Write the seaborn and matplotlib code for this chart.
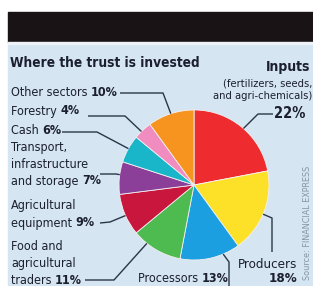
import numpy as np
import matplotlib
matplotlib.use("Agg")
import matplotlib.pyplot as plt
import seaborn as sns
from matplotlib import font_manager as fm
from matplotlib.patches import Rectangle

# ---------------- data ----------------
categories = ["Inputs", "Producers", "Processors", "Food and agricultural traders",
              "Agricultural equipment", "Transport, infrastructure and storage",
              "Cash", "Forestry", "Other sectors"]
shares = [22, 18, 13, 11, 9, 7, 6, 4, 10]
pct_labels = ["22%", "18%", "13%", "11%", "9%", "7%", "6%", "4%", "10%"]
colors = ["#ee2b2e", "#fde128", "#1c9fe0", "#4dbb4f", "#c9163c",
          "#8b3f98", "#19b6c9", "#f08cbf", "#f7941f"]
title = "Where the trust is invested"
source = "Source: FINANCIAL EXPRESS"

sns.set_style("white")
names = {f.name for f in fm.fontManager.ttflist}
if "Liberation Sans Narrow" in names:
    FAM = "Liberation Sans Narrow"
    STRETCH = "normal"
else:
    FAM = "DejaVu Sans"
    STRETCH = "condensed"
plt.rcParams["font.family"] = [FAM, "DejaVu Sans"]

W, H = 313, 286
fig = plt.figure(figsize=(W / 100, H / 100), dpi=100)
fig.patch.set_facecolor("white")
ax = fig.add_axes([0, 0, 1, 1])

def Y(y):
    return H - y

BG = "#d5e5f2"
TXT = "#1b1f2e"
LN = "#2a3647"
ax.add_patch(Rectangle((8, Y(286)), W - 8, 286 - 44, color=BG, zorder=0))
ax.add_patch(Rectangle((8, Y(42)), W - 8, 30, color="#1a1315", zorder=0))
ax.add_patch(Rectangle((8, Y(44)), W - 8, 2, color="#eef3f7", zorder=0))

# ---------------- pie ----------------
cx, cy, R = 194, 185, 75
explode = [0.06] + [0] * (len(shares) - 1)
wedges, _ = ax.pie(shares, colors=colors, startangle=90, counterclock=False,
                   center=(cx, Y(cy)), radius=R, explode=explode,
                   wedgeprops=dict(edgecolor="#f4f0f0", linewidth=0.6), frame=True)
ax.set_xlim(0, W)
ax.set_ylim(0, H)
ax.set_aspect("equal")
ax.axis("off")

def edge_point(i, frac):
    w = wedges[i]
    a1, a2 = w.theta1, w.theta2
    th = np.deg2rad(a1 + (a2 - a1) * frac)
    c = w.center
    return c[0] + w.r * np.cos(th), c[1] + w.r * np.sin(th)

def leader(i, frac, pts):
    ex, ey = edge_point(i, frac)
    xs = [p[0] for p in pts] + [ex]
    ys = [Y(p[1]) for p in pts] + [ey]
    ax.plot(xs, ys, color=LN, lw=1.0, solid_capstyle="butt", zorder=3)

FS = 9
LS = 17
def label(x, y, lines, pct):
    for k, ln in enumerate(lines[:-1]):
        ax.text(x, Y(y + LS * k), ln, fontsize=FS, color=TXT, va="center",
                ha="left", fontstretch=STRETCH)
    yl = Y(y + LS * (len(lines) - 1))
    t = ax.text(x, yl, lines[-1] + " ", fontsize=FS, color=TXT, va="center",
                ha="left", fontstretch=STRETCH)
    ax.annotate(pct, xy=(1, 0), xycoords=t, va="bottom", ha="left",
                fontsize=FS, fontweight="bold", color=TXT, fontstretch=STRETCH)

ax.text(10, Y(63), title, fontsize=9.8, fontweight="bold", color=TXT,
        va="center", ha="left", fontstretch=STRETCH)

# left-side labels
label(11, 92, ["Other sectors"], pct_labels[8])
label(11, 111, ["Forestry"], pct_labels[7])
label(11, 130, ["Cash"], pct_labels[6])
label(11, 147, ["Transport,", "infrastructure", "and storage"], pct_labels[5])
label(11, 206, ["Agricultural", "equipment"], pct_labels[4])
label(11, 247, ["Food and", "agricultural", "traders"], pct_labels[3])
label(138, 279, ["Processors"], pct_labels[2])

# Producers (right aligned)
ax.text(297, Y(265), categories[1], fontsize=9.5, color=TXT, va="center", ha="right",
        fontstretch=STRETCH)
ax.text(297, Y(279), pct_labels[1], fontsize=9.5, fontweight="bold", color=TXT,
        va="center", ha="right", fontstretch=STRETCH)

# Inputs block
ax.text(310, Y(67), categories[0], fontsize=10, fontweight="bold", color=TXT,
        va="center", ha="right", fontstretch=STRETCH)
ax.text(312, Y(83), "(fertilizers, seeds,", fontsize=8, color=TXT, va="center",
        ha="right", fontstretch=STRETCH)
ax.text(312, Y(96), "and agri-chemicals)", fontsize=8, color=TXT, va="center",
        ha="right", fontstretch=STRETCH)
ax.text(305, Y(114), pct_labels[0], fontsize=10.5, fontweight="bold", color=TXT,
        va="center", ha="right", fontstretch=STRETCH)

ax.text(307, Y(223), source, fontsize=6.5, color="#8795a3", rotation=90,
        va="center", ha="center", fontstretch=STRETCH)

# leader lines
leader(8, 0.5, [(120, 93), (163, 93)])
leader(7, 0.59, [(88, 116), (125, 116)])
leader(6, 0.49, [(62, 132), (97, 132)])
leader(5, 0.40, [(100, 174), (116, 174)])
leader(4, 0.52, [(100, 223), (110, 222)])
leader(3, 0.29, [(85, 280), (114, 280)])
leader(2, 0.72, [(229, 286), (229, 262)])
leader(1, 0.48, [(272, 252), (272, 218)])
leader(0, 0.48, [(273, 114), (258, 114)])

fig.savefig("out.png", dpi=100, facecolor="white")
